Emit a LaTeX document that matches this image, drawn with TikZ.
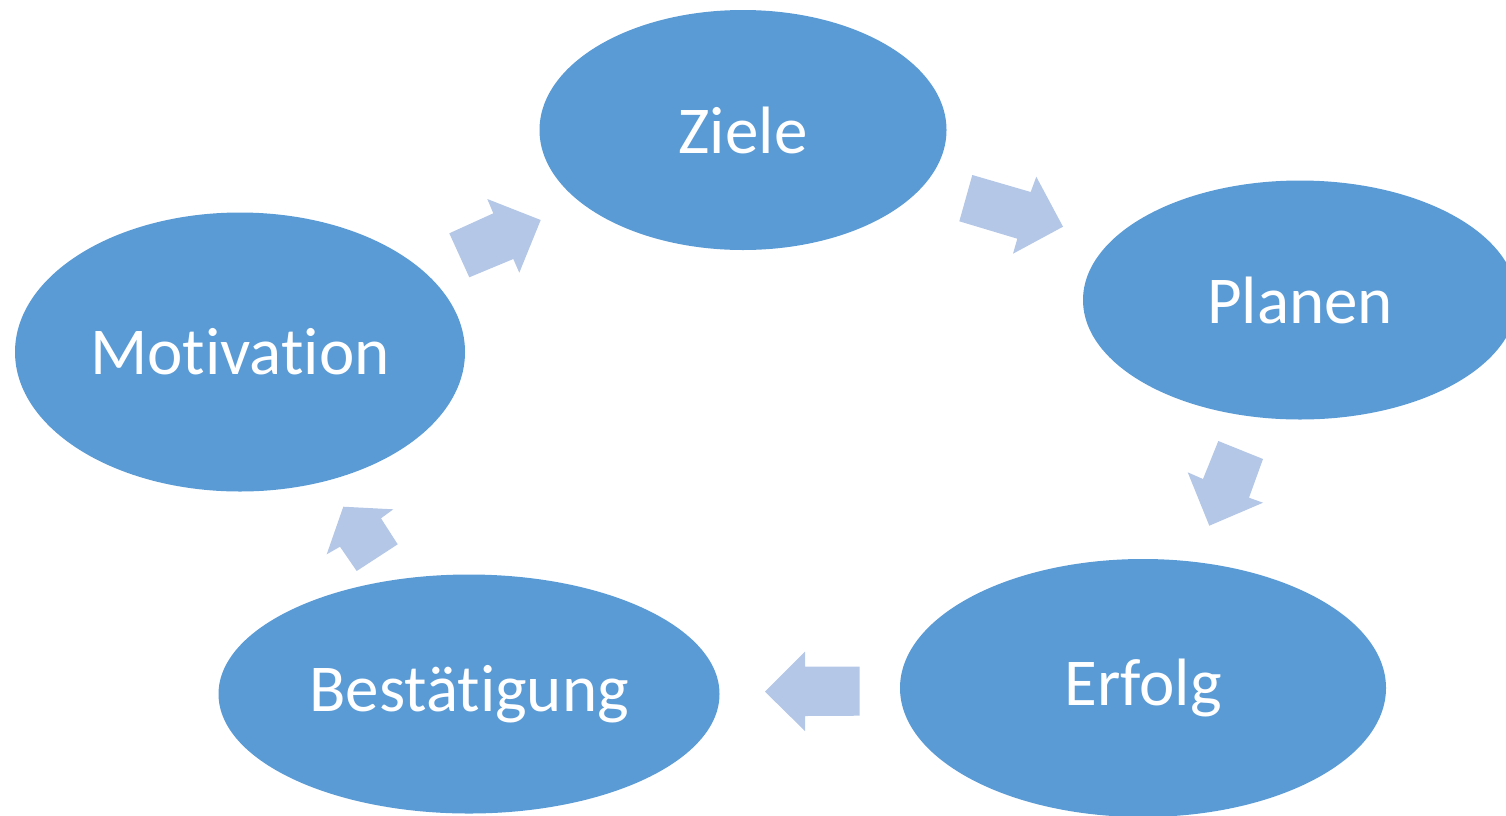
\documentclass[tikz,border=0pt]{standalone}
\usepackage{fontspec}
\setmainfont{Carlito}[Ligatures=NoCommon]
\usetikzlibrary{shapes.geometric}
\definecolor{ellblue}{HTML}{5B9BD5}
\definecolor{arrblue}{HTML}{B4C7E7}
\begin{document}
\begin{tikzpicture}[x=1pt,y=-1pt,
  stage/.style={ellipse, fill=ellblue, draw=none, inner sep=0pt, text=white, font=\fontsize{67}{70}\selectfont},
  blockarrow/.style={fill=arrblue, draw=none}]
\useasboundingbox (0,0) rectangle (1506,815);
\clip (0,0) rectangle (1506,815);
\node[stage, minimum width=407pt, minimum height=240pt] (ziele) at (743,130) {Ziele};
\node[stage, minimum width=434pt, minimum height=239pt] (planen) at (1300,300) {Planen};
\node[stage, minimum width=486pt, minimum height=258pt] (erfolg) at (1143,688) {Erfolg};
\node[stage, minimum width=501pt, minimum height=239pt] (best) at (469,694) {Bestätigung};
\node[stage, minimum width=450pt, minimum height=279pt] (motiv) at (240,352) {Motivation};
% block arrows
\fill[blockarrow] (469.3,277.3) -- (449.3,233.3) -- (493.3,213.3) -- (487.3,199) -- (540.7,220) -- (519.3,272.7) -- (513.3,259) -- cycle;
\fill[blockarrow] (972.3,175) -- (1030.7,192) -- (1036.3,176.7) -- (1063,226.7) -- (1013,253.7) -- (1017.3,238.7) -- (959.3,221.3) -- cycle;
\fill[blockarrow] (1218.3,441) -- (1263,459) -- (1249,497.7) -- (1263,502.7) -- (1209.3,525.7) -- (1187.7,472.3) -- (1203,479) -- cycle;
\fill[blockarrow] (859.7,666.7) -- (805,666.7) -- (805,651.7) -- (765,691.7) -- (805,731) -- (805,716) -- (859.7,715.7) -- cycle;
\fill[blockarrow] (397.7,544.3) -- (356.7,571) -- (340,546.7) -- (326.7,554.3) -- (343.3,506.7) -- (393.3,509.3) -- (381,518.3) -- cycle;
\end{tikzpicture}
\end{document}
